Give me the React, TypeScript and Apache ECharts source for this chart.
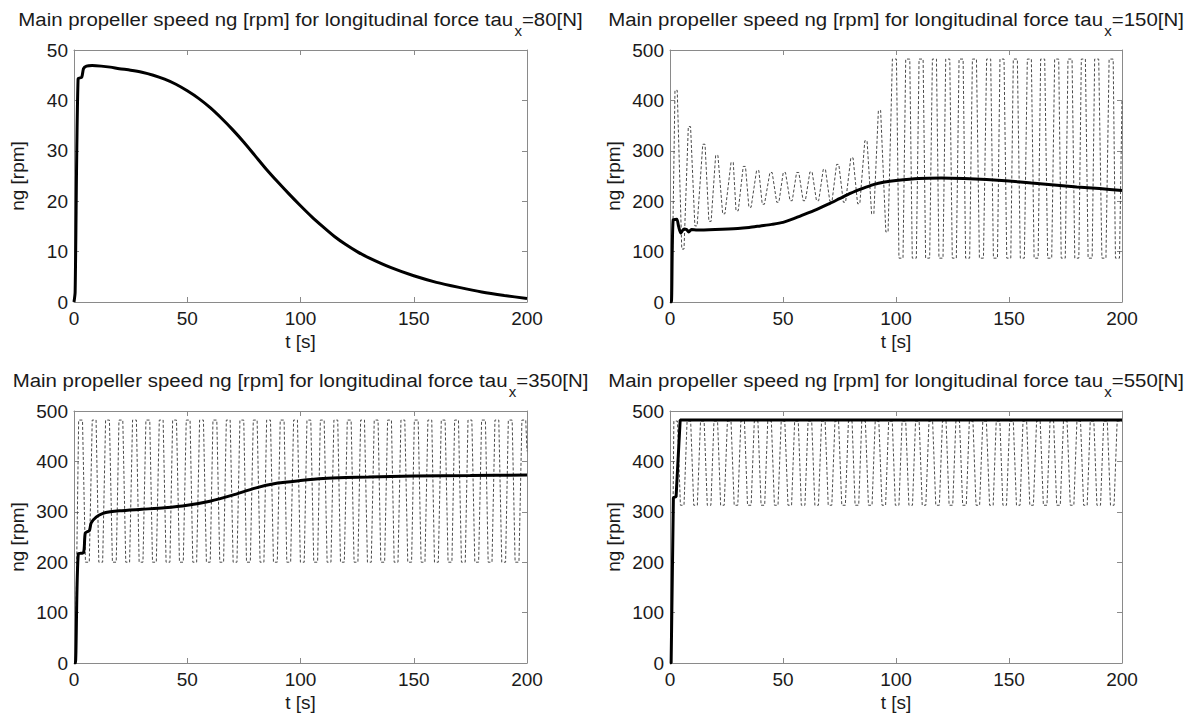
import React, { useEffect, useRef } from 'react';
import * as echarts from 'echarts';

// ---------- data ----------
const tauLabels = ['80', '150', '350', '550'];
const xTickMax = 200;
const xTickStep = 50;
const yMaxes = [50, 500, 500, 500];

// tau_x = 80 N : main propeller speed (solid)
const speed80: [number, number][] = [
  [0, 0], [0.5, 2], [1.8, 44.3], [3.4, 44.6], [4.2, 46.3], [5.5, 46.8], [8, 46.9], [12, 46.8], [16, 46.6],
  [20, 46.3], [25, 46.0], [30, 45.6], [35, 45.0], [40, 44.2], [45, 43.2], [50, 41.9], [55, 40.4], [60, 38.6],
  [65, 36.5], [70, 34.2], [75, 31.7], [80, 29.0], [85, 26.3], [90, 23.8], [95, 21.4], [100, 19.1], [105, 16.9],
  [110, 14.9], [115, 13.0], [120, 11.4], [125, 10.0], [130, 8.8], [140, 6.8], [150, 5.2], [160, 3.9],
  [170, 2.9], [180, 2.0], [190, 1.3], [200, 0.7],
];

// tau_x = 150 N
const speed150: [number, number][] = [
  [0, 0], [0.6, 0], [1.4, 163], [3.0, 164], [3.8, 150], [4.8, 137], [6.2, 145], [7.3, 144], [8.3, 139],
  [9.5, 144], [12, 143], [20, 144], [30, 146], [35, 148], [40, 151], [45, 154], [50, 158], [55, 166],
  [60, 175], [65, 184], [70, 194], [75, 205], [80, 216], [85, 225], [90, 233], [95, 238], [100, 241],
  [110, 245], [120, 246], [130, 245], [140, 243], [150, 240], [160, 236], [170, 232], [180, 228],
  [190, 225], [200, 221],
];
const osc150Start: [number, number][] = [[0, 0], [0.8, 0]];
const osc150Early: [number, number][] = [
  [2.7, 420], [5.7, 105], [8.6, 348], [11.5, 151], [15.0, 313], [17.7, 160], [20.7, 291], [23.8, 175],
  [27.5, 277], [29.7, 181], [32.9, 269], [35.4, 188], [38.8, 261], [41.3, 194], [44.7, 257], [47.7, 198],
  [50.6, 257], [53.6, 201], [56.5, 257], [59.4, 201], [62.4, 258], [65.3, 201], [68.3, 263], [71.2, 200],
  [74.2, 273], [77.2, 198], [80.5, 286], [83.5, 195], [86.7, 320], [89.7, 175], [92.7, 380], [96.0, 139],
];
const osc150LateTops = [99.3, 105.2, 111.1, 117.0, 122.9, 128.8, 134.7, 141.0, 146.9, 152.8, 159.0, 164.9, 171.1, 177.0, 182.9, 188.8, 195.2];
const osc150LateBottoms = [102.2, 108.1, 114.0, 119.9, 125.8, 131.7, 137.8, 144.0, 149.9, 155.9, 162.0, 168.0, 174.0, 180.0, 185.9, 192.0, 198.0];
const osc150Levels = [87, 482];
const osc150End: [number, number][] = [[200, 400]];

// tau_x = 350 N
const speed350: [number, number][] = [
  [0, 0], [0.6, 0], [1.9, 217], [4.2, 219], [5.0, 258], [6.8, 263], [7.6, 278], [9.9, 290], [12.8, 297],
  [16, 300], [20, 302], [30, 305], [40, 308], [50, 313], [60, 321], [70, 333], [80, 347], [90, 357],
  [100, 362], [110, 366], [120, 368], [130, 369], [150, 371], [175, 372], [200, 373],
];
const osc350Start: [number, number][] = [[0, 0], [0.6, 0]];
const osc350Tops = [2.9, 8.9, 14.8, 20.7, 26.7, 32.6, 38.5, 44.4, 50.4, 56.3, 62.2, 68.1, 74.1, 80.0, 85.9, 91.9, 97.8,
  103.7, 109.6, 115.6, 121.5, 127.4, 133.4, 139.3, 145.2, 151.1, 157.1, 163.0, 168.9, 174.8, 180.8, 186.7, 192.6, 198.6];
const osc350Bottoms = [5.9, 11.8, 17.8, 23.7, 29.6, 35.5, 41.5, 47.4, 53.3, 59.3, 65.2, 71.1, 77.0, 83.0, 88.9, 94.8,
  100.8, 106.7, 112.6, 118.5, 124.5, 130.4, 136.3, 142.2, 148.2, 154.1, 160.0, 166.0, 171.9, 177.8, 183.7, 189.7, 195.6];
const osc350Levels = [200, 482];
const osc350End: [number, number][] = [[200, 420]];

// tau_x = 550 N
const speed550: [number, number][] = [
  [0, 0], [0.5, 0], [1.5, 328], [2.7, 330], [4.5, 482], [200, 482],
];
const osc550Start: [number, number][] = [[0, 0], [0.5, 0], [1.4, 330]];
const osc550Tops = [2.5, 8.35, 14.3, 20.25, 26.2, 32.15, 38.1, 44.05, 50.0, 55.95, 61.9, 67.85, 73.8, 79.75, 85.65,
  91.6, 97.55, 103.5, 109.45, 115.4, 121.35, 127.3, 133.25, 139.2, 145.15, 151.1, 157.0, 163.0, 168.95, 174.9,
  180.85, 186.75, 192.7, 198.65];
const osc550Bottoms = [5.4, 11.3, 17.3, 23.2, 29.2, 35.1, 41.1, 47.0, 53.0, 58.9, 64.9, 70.8, 76.8, 82.7, 88.6, 94.6,
  100.5, 106.5, 112.4, 118.4, 124.3, 130.3, 136.2, 142.2, 148.1, 154.1, 160.0, 166.0, 171.9, 177.9, 183.8, 189.7, 195.7];
const osc550Levels = [313, 480];
const osc550End: [number, number][] = [[200, 480]];

// ---------- helpers building line vertices from read turning points ----------
function merge(tops: number[], bottoms: number[], levels: number[]): [number, number][] {
  const pts: [number, number][] = [
    ...tops.map((t) => [t, levels[1]] as [number, number]),
    ...bottoms.map((t) => [t, levels[0]] as [number, number]),
  ];
  return pts.sort((a, b) => a[0] - b[0]);
}
function plateaus(turns: [number, number][], w: number): [number, number][] {
  const out: [number, number][] = [];
  turns.forEach(([t, v]) => {
    out.push([t - w, v], [t + w, v]);
  });
  return out;
}

const FONT = '"Liberation Sans", Arial, Helvetica, sans-serif';
const TEXT_COLOR = '#1a1a1a';
const AXIS_COLOR = '#8a8a8a';
const TITLE_SIZE = 19;
const TITLE_SUB_SIZE = 14;
const TITLE_STRETCH = 1.075;
const LABEL_SIZE = 19;

const grids = [
  { left: 74, top: 50, width: 453, height: 252 },
  { left: 670, top: 50, width: 452, height: 252 },
  { left: 74, top: 411, width: 453, height: 252 },
  { left: 670, top: 411, width: 452, height: 252 },
];

export default function App() {
  const ref = useRef<HTMLDivElement>(null);

  useEffect(() => {
    if (!ref.current) return;
    const chart = echarts.init(ref.current, null, { renderer: 'svg' });

    const canvas = document.createElement('canvas');
    const ctx = canvas.getContext('2d')!;
    const measure = (t: string, size: number) => {
      ctx.font = `${size}px "Liberation Sans"`;
      return ctx.measureText(t).width;
    };

    const xAxes: any[] = [];
    const yAxes: any[] = [];
    grids.forEach((g, i) => {
      const common = {
        type: 'value',
        gridIndex: i,
        axisLine: { show: true, onZero: false, lineStyle: { color: AXIS_COLOR, width: 1 } },
        axisTick: { show: true, inside: true, length: 5, lineStyle: { color: AXIS_COLOR } },
        splitLine: { show: false },
      };
      xAxes.push({
        ...common, position: 'bottom', min: 0, max: xTickMax, interval: xTickStep,
        axisLabel: { show: true, fontSize: LABEL_SIZE, fontFamily: FONT, color: TEXT_COLOR, margin: 7 },
      });
      xAxes.push({
        ...common, position: 'top', min: 0, max: xTickMax, interval: xTickStep,
        axisLabel: { show: false },
      });
      yAxes.push({
        ...common, position: 'left', min: 0, max: yMaxes[i], interval: yMaxes[i] / 5,
        axisLabel: { show: true, fontSize: LABEL_SIZE, fontFamily: FONT, color: TEXT_COLOR, margin: 6 },
      });
      yAxes.push({
        ...common, position: 'right', min: 0, max: yMaxes[i], interval: yMaxes[i] / 5,
        axisLabel: { show: false },
      });
    });

    const dashedStyle = { color: '#4a4a4a', width: 1, type: [3, 2] as any };
    const solidStyle = { color: '#000', width: 3 };

    const osc150 = [
      ...osc150Start,
      ...plateaus(osc150Early, 0.5),
      ...plateaus(merge(osc150LateTops, osc150LateBottoms, osc150Levels), 0.9),
      ...osc150End,
    ];
    const osc350 = [...osc350Start, ...plateaus(merge(osc350Tops, osc350Bottoms, osc350Levels), 0.85), ...osc350End];
    const osc550 = [...osc550Start, ...plateaus(merge(osc550Tops, osc550Bottoms, osc550Levels), 0.8), ...osc550End];

    const mk = (data: any, idx: number, style: any, z: number, smooth: number) => ({
      type: 'line', xAxisIndex: idx * 2, yAxisIndex: idx * 2, data, showSymbol: false, symbol: 'none',
      lineStyle: style, z, clip: true, silent: true, smooth,
    });

    const series = [
      mk(speed80, 0, solidStyle, 3, 0.25),
      mk(osc150, 1, dashedStyle, 2, 0),
      mk(speed150, 1, solidStyle, 3, 0.25),
      mk(osc350, 2, dashedStyle, 2, 0),
      mk(speed350, 2, solidStyle, 3, 0.25),
      mk(osc550, 3, dashedStyle, 2, 0),
      mk(speed550, 3, solidStyle, 3, 0),
    ];

    const graphics: any[] = [];
    const mainText = 'Main propeller speed ng [rpm] for longitudinal force tau';
    grids.forEach((g, i) => {
      const cx = g.left + g.width / 2;
      const my = g.top - 30.5;
      const tail = '=' + tauLabels[i] + '[N]';
      const wA = measure(mainText, TITLE_SIZE);
      const wX = measure('x', TITLE_SUB_SIZE);
      const wB = measure(tail, TITLE_SIZE);
      const total = wA + wX + wB + 1;
      const lx = -total / 2;
      const base = { fontFamily: FONT, fill: TEXT_COLOR, verticalAlign: 'middle', align: 'left' };
      graphics.push({
        type: 'group', x: cx, y: my, scaleX: TITLE_STRETCH,
        children: [
          { type: 'text', x: lx, y: 0, style: { ...base, text: mainText, fontSize: TITLE_SIZE } },
          { type: 'text', x: lx + wA + 1, y: 12, style: { ...base, text: 'x', fontSize: TITLE_SUB_SIZE } },
          { type: 'text', x: lx + wA + wX + 1, y: 0, style: { ...base, text: tail, fontSize: TITLE_SIZE } },
        ],
      });
      // axis names
      graphics.push({
        type: 'text', x: cx, y: g.top + g.height + 39,
        style: { text: 't [s]', fontFamily: FONT, fontSize: LABEL_SIZE, fill: TEXT_COLOR, align: 'center', verticalAlign: 'middle' },
      });
      graphics.push({
        type: 'text', x: g.left - 57, y: g.top + g.height / 2, rotation: Math.PI / 2,
        style: { text: 'ng [rpm]', fontFamily: FONT, fontSize: LABEL_SIZE, fill: TEXT_COLOR, align: 'center', verticalAlign: 'middle' },
      });
    });

    chart.setOption({
      animation: false,
      backgroundColor: '#fff',
      grid: grids.map((g) => ({ ...g, containLabel: false })),
      xAxis: xAxes,
      yAxis: yAxes,
      series,
      graphic: graphics,
    });

    return () => chart.dispose();
  }, []);

  return (
    <div
      ref={ref}
      style={{ position: 'fixed', left: 0, top: 0, width: 1191, height: 715, background: '#fff' }}
    />
  );
}
